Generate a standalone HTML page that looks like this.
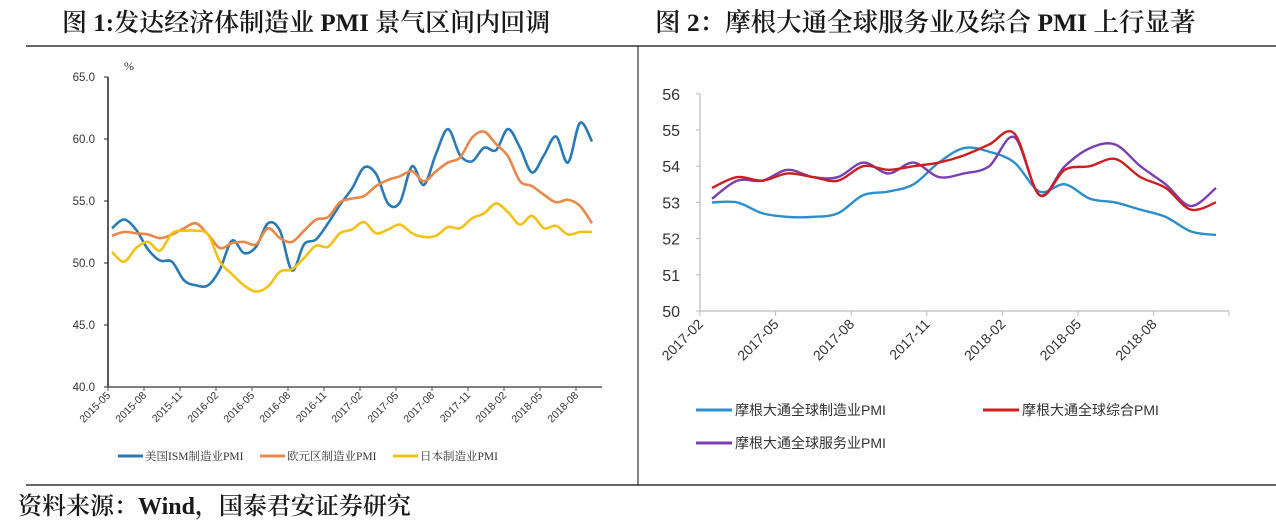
<!DOCTYPE html>
<html><head><meta charset="utf-8">
<style>
html,body{margin:0;padding:0;background:#fff;}
body{width:1276px;height:519px;overflow:hidden;position:relative;font-family:"Liberation Serif","Noto Serif CJK SC",serif;}
.t{position:absolute;font-size:25px;color:#1a1a1a;white-space:nowrap;font-weight:600;}
</style></head>
<body>
<div class="t" style="left:62px;top:3px;">图 1:发达经济体制造业 PMI 景气区间内回调</div>
<div class="t" style="left:655px;top:3px;font-size:25.5px;">图 2：摩根大通全球服务业及综合 PMI 上行显著</div>
<div class="t" style="left:18px;top:486px;font-size:24px;">资料来源：Wind，国泰君安证券研究</div>
<svg id="svg" width="1276" height="519" style="position:absolute;left:0;top:0">
<line x1="26" y1="46" x2="1276" y2="46" stroke="#333" stroke-width="1.5"/>
<line x1="26" y1="485" x2="1276" y2="485" stroke="#333" stroke-width="1.5"/>
<line x1="638" y1="46" x2="638" y2="485" stroke="#333" stroke-width="1.2"/>
</svg>
<script>
// Chart 1 data
const months1 = ["2015-05","2015-08","2015-11","2016-02","2016-05","2016-08","2016-11","2017-02","2017-05","2017-08","2017-11","2018-02","2018-05","2018-08"];
const ticks1 = [40,45,50,55,60,65];
const usISM = [52.8,53.5,52.7,51.1,50.2,50.1,48.6,48.2,48.2,49.5,51.8,50.8,51.3,53.2,52.6,49.4,51.5,51.9,53.2,54.7,56.0,57.7,57.2,54.8,54.9,57.8,56.3,58.8,60.8,58.7,58.2,59.3,59.1,60.8,59.3,57.3,58.7,60.2,58.1,61.3,59.8];
const euro = [52.2,52.5,52.4,52.3,52.0,52.3,52.8,53.2,52.3,51.2,51.6,51.7,51.5,52.8,52.0,51.7,52.6,53.5,53.7,54.9,55.2,55.4,56.2,56.7,57.0,57.4,56.6,57.4,58.1,58.5,60.1,60.6,59.6,58.6,56.6,56.2,55.5,54.9,55.1,54.6,53.2];
const japan = [50.9,50.1,51.2,51.7,51.0,52.4,52.6,52.6,52.3,50.1,49.1,48.2,47.7,48.1,49.3,49.5,50.4,51.4,51.3,52.4,52.7,53.3,52.4,52.7,53.1,52.4,52.1,52.2,52.9,52.8,53.6,54.0,54.8,54.1,53.1,53.8,52.8,53.0,52.3,52.5,52.5];
// Chart 2 data
const months2 = ["2017-02","2017-05","2017-08","2017-11","2018-02","2018-05","2018-08"];
const ticks2 = [50,51,52,53,54,55,56];
const jpmMfg = [53.0,53.0,52.7,52.6,52.6,52.7,53.2,53.3,53.5,54.1,54.5,54.4,54.1,53.3,53.5,53.1,53.0,52.8,52.6,52.2,52.1];
const jpmComp = [53.4,53.7,53.6,53.8,53.7,53.6,54.0,53.9,54.0,54.1,54.3,54.6,54.9,53.2,53.9,54.0,54.2,53.7,53.4,52.8,53.0];
const jpmServ = [53.1,53.6,53.6,53.9,53.7,53.7,54.1,53.8,54.1,53.7,53.8,54.0,54.8,53.2,54.0,54.5,54.6,54.0,53.5,52.9,53.4];

const svg=document.getElementById('svg');
const NS='http://www.w3.org/2000/svg';
function mk(tag,attrs,parent){const e=document.createElementNS(NS,tag);for(const k in attrs)e.setAttribute(k,attrs[k]);(parent||svg).appendChild(e);return e;}
function smooth(pts){let d='M'+pts[0][0]+','+pts[0][1];for(let i=0;i<pts.length-1;i++){const p0=pts[Math.max(0,i-1)],p1=pts[i],p2=pts[i+1],p3=pts[Math.min(pts.length-1,i+2)];const c1x=p1[0]+(p2[0]-p0[0])/6,c1y=p1[1]+(p2[1]-p0[1])/6,c2x=p2[0]-(p3[0]-p1[0])/6,c2y=p2[1]-(p3[1]-p1[1])/6;d+=' C'+c1x+','+c1y+' '+c2x+','+c2y+' '+p2[0]+','+p2[1];}return d;}

// ---- Chart 1 ----
const x1=i=>112+12*i, y1=v=>387-(v-40)*12.4;
mk('line',{x1:108,y1:77,x2:108,y2:387,stroke:'#222','stroke-width':1.5});
mk('line',{x1:108,y1:387,x2:602,y2:387,stroke:'#555','stroke-width':1.5});
ticks1.forEach(v=>{const t=mk('text',{x:95,y:y1(v)+4,'text-anchor':'end','font-size':11.5,fill:'#333','font-family':'Liberation Sans, sans-serif'});t.textContent=v.toFixed(1);


mk('line',{x1:104,y1:y1(v),x2:108,y2:y1(v),stroke:'#222'});});
{const t=mk('text',{x:124,y:70,'font-size':12,fill:'#333'});t.textContent='%';}
months1.forEach((m,k)=>{const x=108+36*k;mk('line',{x1:x,y1:387,x2:x,y2:391,stroke:'#555'});
const t=mk('text',{x:x+3,y:396,'text-anchor':'end','font-size':10.5,fill:'#333','font-family':'Liberation Sans, sans-serif',transform:'rotate(-45 '+(x+3)+' 396)'});t.textContent=m;

});
[[usISM,'#2a7ab5','us-ism-line'],[euro,'#e8884a','euro-line'],[japan,'#f2c218','japan-line']].forEach(s=>{
const p=mk('path',{d:smooth(s[0].map((v,i)=>[x1(i),y1(v)])),fill:'none',stroke:s[1],'stroke-width':2.6});

});
[['美国ISM制造业PMI','#2a7ab5',118],['欧元区制造业PMI','#e8884a',260],['日本制造业PMI','#f2c218',393]].forEach(l=>{
mk('line',{x1:l[2],y1:456,x2:l[2]+25,y2:456,stroke:l[1],'stroke-width':3});
const t=mk('text',{x:l[2]+27,y:460,'font-size':11.5,fill:'#333'});t.textContent=l[0];

});

// ---- Chart 2 ----
const x2=i=>712+25.2*i, y2=v=>311-(v-50)*36.2;
mk('line',{x1:700,y1:94,x2:700,y2:311,stroke:'#bbb','stroke-width':1.2});
mk('line',{x1:700,y1:311,x2:1229,y2:311,stroke:'#bbb','stroke-width':1.2});
ticks2.forEach(v=>{mk('line',{x1:696,y1:y2(v),x2:700,y2:y2(v),stroke:'#bbb'});
const t=mk('text',{x:680,y:y2(v)+6,'text-anchor':'end','font-size':16,fill:'#333','font-family':'Liberation Sans, sans-serif'});t.textContent=v;

});
months2.forEach((m,k)=>{const x=700+75.6*k;mk('line',{x1:x,y1:311,x2:x,y2:316,stroke:'#bbb'});
const t=mk('text',{x:x+4,y:325,'text-anchor':'end','font-size':14,fill:'#333','font-family':'Liberation Sans, sans-serif',transform:'rotate(-45 '+(x+4)+' 325)'});t.textContent=m;

});
mk('line',{x1:1229,y1:311,x2:1229,y2:316,stroke:'#bbb'});
[[jpmMfg,'#2b8fcc','jpm-manufacturing-line'],[jpmServ,'#7a3fb0','jpm-services-line'],[jpmComp,'#cc1f1f','jpm-composite-line']].forEach(s=>{
const p=mk('path',{d:smooth(s[0].map((v,i)=>[x2(i),y2(v)])),fill:'none',stroke:s[1],'stroke-width':2.4});

});
[['摩根大通全球制造业PMI','#2b8fcc',696,410],['摩根大通全球综合PMI','#cc1f1f',983,410],['摩根大通全球服务业PMI','#7a3fb0',696,443]].forEach(l=>{
mk('line',{x1:l[2],y1:l[3],x2:l[2]+36,y2:l[3],stroke:l[1],'stroke-width':3});
const t=mk('text',{x:l[2]+39,y:l[3]+5,'font-size':14,fill:'#333','font-family':'Liberation Sans, Noto Sans CJK SC, sans-serif'});t.textContent=l[0];

});
</script>
</body></html>
